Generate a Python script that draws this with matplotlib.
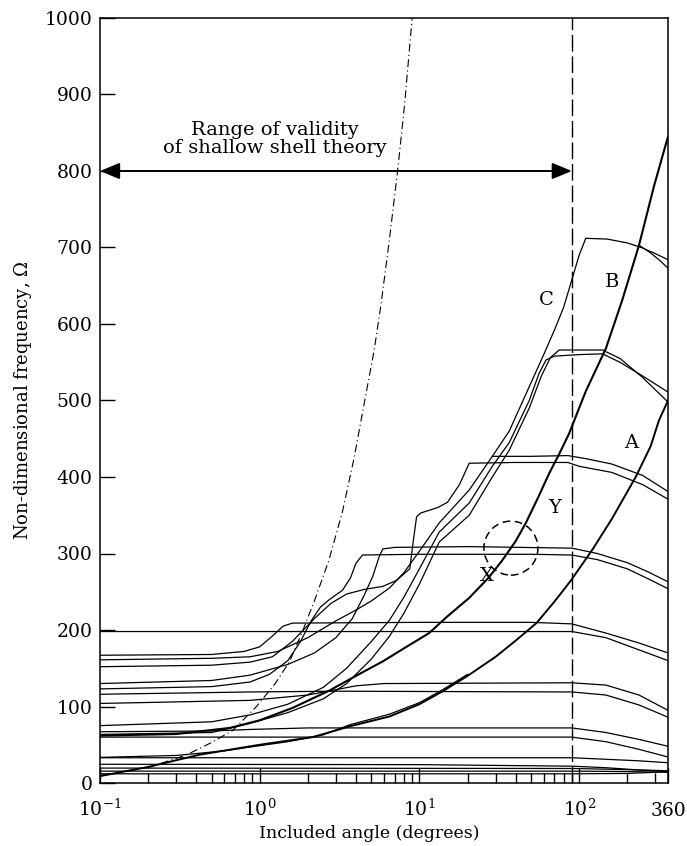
import numpy as np
import matplotlib
matplotlib.use('Agg')
from matplotlib import pyplot as plt
from matplotlib.patches import Ellipse

plt.rcParams['font.family'] = ['DejaVu Serif']
plt.rcParams['mathtext.fontset'] = 'dejavuserif'
plt.rcParams['font.size'] = 13

#============================================================================================================#
#Curves: included angle (degrees) and non-dimensional frequency
#bold curve through X, Y and up past B
xyb_deg = [0.1, 0.3, 0.65, 1.0, 1.6, 2.74, 4.0, 5.9, 8.0, 11.5, 15, 20.5, 27, 33, 40, 46.4, 55, 65, 75, 86.6,
           110, 147, 186, 237, 294, 360]
xyb_om = [62, 64, 72, 82, 98, 121, 140, 159, 176, 196, 218, 242, 268, 291, 316, 340, 372, 405, 430, 457,
          512, 568, 631, 703, 780, 845]
#bold curve A
a_deg = [0.1, 0.2, 0.42, 1.0, 2.15, 3.65, 6.5, 10, 14, 20, 30, 40, 54, 70, 89, 121, 160, 226, 280, 316, 360]
a_om = [9, 21, 37, 50, 60, 74, 87, 103, 120, 140, 165, 186, 209, 237, 265, 305, 345, 400, 440, 474, 500]
a2_deg = [0.1, 0.3, 0.6, 0.87, 1.5, 2.5, 3.65, 6.5, 10, 14, 20]
a2_om = [33.5, 36, 42, 47, 54, 63, 76, 90, 105, 122, 142]
#curve C and its plateau
c_deg = [0.1, 0.5, 0.87, 1.3, 2.0, 3.0, 4.0, 5.0, 6.5, 8.0, 10, 13.3, 20.5, 28.6, 36.5, 48.7, 60, 70, 80, 88.6,
         100, 110, 150, 200, 245, 300, 360]
c_om = [161, 163, 165, 172, 190, 212, 226, 238, 255, 275, 303, 340, 383, 427, 460, 518, 560, 592, 622, 653,
        690, 712, 711, 706, 700, 692, 684]
top_deg = [237, 280, 320, 360]
top_om = [703, 693, 683, 673]
#bundle going to the 560 plateau
b2_deg = [0.1, 0.5, 0.87, 1.5, 2.5, 3.5, 5, 6.5, 8, 10, 13.3, 20.5, 28.6, 36.5, 48.7, 56, 62, 70, 100, 140, 180, 250, 360]
b2_om = [75, 80, 89, 103, 125, 150, 185, 213, 243, 280, 328, 366, 414, 445, 500, 535, 553, 558, 560, 561, 550, 532, 511]
b3_deg = [0.1, 0.5, 0.87, 1.5, 2.5, 3.5, 5, 6.5, 8, 10, 13.3, 20.5, 28.6, 36.5, 48.7, 58, 66, 75, 140, 180, 250, 360]
b3_om = [63.5, 66, 78, 92, 110, 130, 162, 192, 222, 260, 315, 350, 400, 435, 490, 532, 556, 566, 566, 555, 530, 498]
#staircase to the 420 plateau
r3_deg = [0.1, 0.5, 0.87, 1.2, 1.6, 2.2, 2.8, 3.5, 4.5, 5.9, 7.2, 8.7, 9.2, 9.6, 10.2, 13, 15, 17.8, 20.5, 40, 85,
          100, 160, 250, 360]
r3_om = [152, 154, 158, 165, 185, 215, 235, 247, 253, 257, 265, 280, 320, 348, 353, 360, 367, 390, 418, 419, 419,
         414, 406, 390, 371]
l426_deg = [28.6, 50, 85, 110, 160, 250, 360]
l426_om = [427, 427, 428, 424, 417, 402, 381]
#curves going to the 300 plateau pair
r299_deg = [0.1, 0.5, 0.87, 1.15, 1.5, 1.8, 2.1, 2.4, 2.74, 3.3, 3.7, 4.0, 4.4, 10, 50, 90, 130, 200, 270, 360]
r299_om = [123, 126, 132, 142, 160, 185, 212, 230, 240, 252, 268, 287, 298, 299, 299, 298, 292, 280, 267, 254]
r307_deg = [0.1, 0.5, 0.87, 1.5, 2.2, 3.0, 3.8, 4.5, 5.1, 5.6, 5.9, 7, 20, 90, 130, 200, 270, 360]
r307_om = [130, 134, 141, 155, 170, 190, 215, 245, 270, 296, 306, 308, 309, 307, 300, 288, 276, 263]
#plateau lines
p209_deg = [0.1, 0.5, 0.8, 1.0, 1.2, 1.4, 1.6, 10, 50, 90, 147, 237, 360]
p209_om = [167, 168, 172, 178, 192, 205, 209, 210, 210, 208, 196, 183, 170]
p198_deg = [0.1, 20, 90, 147, 237, 360]
p198_om = [198, 198, 198, 190, 174, 160]
p131_deg = [0.1, 0.87, 2, 3, 4, 6, 90, 147, 237, 360]
p131_om = [104, 108, 115, 122, 127, 130, 131, 128, 115, 95]
p120_deg = [0.1, 0.87, 3, 90, 147, 237, 360]
p120_om = [116, 119, 120, 119, 115, 102, 86]
l72_deg = [0.1, 0.5, 0.87, 2, 90, 147, 237, 360]
l72_om = [67, 68, 70, 72, 72, 66, 57, 48]
l60_deg = [0.1, 90, 147, 237, 360]
l60_om = [60, 60, 54, 44, 34]
l33_deg = [0.1, 90, 147, 237, 360]
l33_om = [33, 33, 31, 29, 26.5]
l24_deg = [0.1, 10, 90, 147, 237, 360]
l24_om = [24.5, 24, 22, 20, 17, 15]
l19_deg = [0.1, 90, 200, 360]
l19_om = [19.5, 19, 17.5, 16]
l15_deg = [0.1, 90, 200, 360]
l15_om = [15.5, 15.5, 15, 14]
l12_deg = [0.1, 90, 200, 300, 360]
l12_om = [12, 12, 12.5, 14, 15]
#dash-dot line
dd_deg = [0.1, 0.2, 0.35, 0.5, 0.68, 0.955, 1.25, 1.54, 1.85, 2.2, 2.7, 3.3, 3.9, 4.64, 5.2, 5.76, 6.5, 7.3, 8.1, 9.0]
dd_om = [10, 20, 37, 53, 69, 100, 130, 159, 198, 238, 290, 355, 425, 510, 565, 627, 712, 800, 890, 1000]

x_ticks = [0.1, 1, 10, 100, 360]
x_labels = ['$10^{-1}$', '$10^{0}$', '$10^{1}$', '$10^{2}$', '360']
x_minor = [0.2, 0.3, 0.4, 0.5, 0.6, 0.7, 0.8, 0.9, 2, 3, 4, 5, 6, 7, 8, 9, 20, 30, 40, 50, 60, 70, 80, 90, 200, 300]
y_ticks = list(range(0, 1001, 100))
#============================================================================================================#
fig = plt.figure(figsize=(6.87, 8.46), dpi=100)
ax = fig.add_axes([100/687, 1 - 783/846, 568/687, 765/846])
ax.set_xscale('log')
ax.set_xlim(0.1, 360)
ax.set_ylim(0, 1000)

thin = [(c_deg, c_om), (top_deg, top_om), (b2_deg, b2_om), (b3_deg, b3_om), (r3_deg, r3_om),
        (l426_deg, l426_om), (r299_deg, r299_om), (r307_deg, r307_om), (p209_deg, p209_om),
        (p198_deg, p198_om), (p131_deg, p131_om), (p120_deg, p120_om), (l72_deg, l72_om),
        (l60_deg, l60_om), (l33_deg, l33_om), (l24_deg, l24_om), (l19_deg, l19_om),
        (l15_deg, l15_om), (l12_deg, l12_om), (a2_deg, a2_om)]
for d, w in thin:
    ax.plot(d, w, c='k', lw=0.9)
ax.plot(xyb_deg, xyb_om, c='k', lw=1.5)
ax.plot(a_deg, a_om, c='k', lw=1.4)
ax.plot(dd_deg, dd_om, c='k', lw=0.8, ls=(0, (7, 3, 1, 3)))

#limit of shallow shell theory
ax.axvline(90, c='k', lw=1.0, ls=(0, (12, 3.5)))
ax.annotate('', xy=(0.1, 800), xytext=(90, 800),
            arrowprops=dict(arrowstyle='<|-|>,head_length=0.6,head_width=0.25', mutation_scale=20,
                            lw=1.4, color='k', shrinkA=0, shrinkB=0))
ax.text(1.24, 842, 'Range of validity\nof shallow shell theory', ha='center', va='center',
        fontsize=14, linespacing=0.95)

#labels for the curves
for s, xx, yy in [('C', 62, 631), ('B', 160, 655), ('A', 211, 444), ('Y', 70, 360), ('X', 26.6, 270)]:
    ax.text(xx, yy, s, ha='center', va='center', fontsize=14)

#dashed circle round the veering point
cx, cy = ax.transAxes.inverted().transform(ax.transData.transform((37.4, 307)))
ax.add_patch(Ellipse((cx, cy), 54/568, 54/765, transform=ax.transAxes, fill=False, ec='k',
                     lw=1.1, ls=(0, (5, 3))))

ax.set_xticks(x_ticks)
ax.set_xticklabels(x_labels)
ax.set_xticks(x_minor, minor=True)
ax.set_xticklabels([], minor=True)
ax.set_yticks(y_ticks)
ax.tick_params(which='major', direction='in', length=11, width=1.0, pad=5.5, labelsize=13.5)
ax.tick_params(axis='x', which='major', pad=23.5)
ax.tick_params(which='minor', direction='in', length=7, width=1.0)
for lbl in ax.get_xticklabels():
    lbl.set_va('baseline')
for sp in ax.spines.values():
    sp.set_linewidth(1.1)
ax.set_xlabel('Included angle (degrees)', fontsize=12.5)
ax.set_ylabel(r'Non-dimensional frequency, $\mathit{\Omega}$', fontsize=13)
ax.xaxis.set_label_coords(0.4745, -0.0545)
ax.yaxis.set_label_coords(-0.116, 0.5)

fig.savefig('out.png', dpi=100)
